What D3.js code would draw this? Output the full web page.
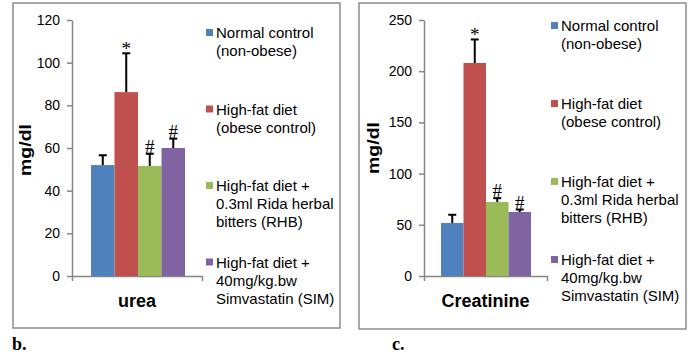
<!DOCTYPE html>
<meta charset="utf-8">
<style>
	body { margin: 0; background: #fff; }
	svg { display: block; font-family: "Liberation Sans", Arial, sans-serif; }
	.frame { fill: none; stroke: #8c8c8c; stroke-width: 1.5; }
	.axis path, .axis line { stroke: #868686; stroke-width: 1.5; }
	.axis text { font-size: 14px; fill: #000; font-family: "Liberation Sans", Arial, sans-serif; }
	.legend-text { font-size: 15px; fill: #000; }
	.err { stroke: #000; stroke-width: 2; }
	.mark { font-family: "Liberation Serif", "Times New Roman", serif; font-size: 19px; text-anchor: middle; }
	.ylab { font-size: 17px; font-weight: bold; text-anchor: middle; }
	.xlab { font-size: 18px; font-weight: bold; text-anchor: middle; }
	.panel-tag { font-family: "Liberation Serif", "Times New Roman", serif; font-size: 18px; font-weight: bold; }
</style>
<div id="chart"></div>
<script src="https://d3js.org/d3.v7.min.js"></script>
<script>

// ---- Data ---- //
const groups = ["NC", "HFD", "RHB", "SIM"];
const groupColors = ["#4f81bd", "#c0504d", "#9bbb59", "#8064a2"];
const legendLines = [
	["Normal control", "(non-obese)"],
	["High-fat diet", "(obese control)"],
	["High-fat diet +", "0.3ml Rida herbal", "bitters (RHB)"],
	["High-fat diet +", "40mg/kg.bw", "Simvastatin (SIM)"]
];

const ureaMeans = [52, 86.2, 51.6, 60];
const ureaErrors = [4.6, 18.2, 5.7, 4.4];
const ureaMarks = ["", "*", "#", "#"];
const ureaTicks = [0, 20, 40, 60, 80, 100, 120];

const creatMeans = [51.8, 208, 72.3, 62.5];
const creatErrors = [8, 23, 3.7, 2.4];
const creatMarks = ["", "*", "#", "#"];
const creatTicks = [0, 50, 100, 150, 200, 250];

// ---- Canvas ---- //
let svg = d3.select("#chart").append("svg")
	.attr("width", 692)
	.attr("height", 356);

function drawPanel(p) {
	let g = svg.append("g");

	// frame
	g.append("rect").attr("class", "frame")
		.attr("x", p.frame[0]).attr("y", p.frame[1])
		.attr("width", p.frame[2]).attr("height", p.frame[3]);

	// scales
	let y = d3.scaleLinear().domain([0, d3.max(p.ticks)]).range([276, 20]);
	let x = d3.scaleBand().domain(groups).range(p.bars).paddingInner(0);
	let xa = d3.scaleLinear().domain([0, 1]).range(p.axisX);

	// axes
	g.append("g").attr("class", "axis")
		.attr("transform", "translate(" + p.axisX[0] + ",0)")
		.call(d3.axisLeft(y).tickValues(p.ticks).tickSize(5).tickSizeOuter(0).tickPadding(7));
	g.append("g").attr("class", "axis")
		.attr("transform", "translate(0," + y(0) + ")")
		.call(d3.axisBottom(xa).tickValues([0, 1]).tickSize(5).tickSizeOuter(0).tickFormat(""));

	// bars
	g.selectAll(".bar").data(p.means).enter().append("rect")
		.attr("x", (d, i) => x(groups[i]))
		.attr("y", d => y(d))
		.attr("width", x.bandwidth())
		.attr("height", d => y(0) - y(d))
		.attr("fill", (d, i) => groupColors[i]);

	// error bars (upper only)
	p.means.forEach((m, i) => {
		let cx = x(groups[i]) + x.bandwidth() / 2;
		let top = y(m + p.errors[i]);
		g.append("line").attr("class", "err")
			.attr("x1", cx).attr("x2", cx).attr("y1", y(m)).attr("y2", top);
		g.append("line").attr("class", "err")
			.attr("x1", cx - 4).attr("x2", cx + 4).attr("y1", top).attr("y2", top);
		if (p.marks[i]) {
			g.append("text").attr("class", "mark")
				.attr("x", cx)
				.attr("y", p.marks[i] == "*" ? top + 2 : top - 1)
				.text(p.marks[i]);
		}
	});

	// axis titles
	g.append("text").attr("class", "ylab")
		.attr("transform", "translate(" + p.ylabX + "," + p.ylabY + ") rotate(-90)")
		.attr("textLength", 52)
		.attr("lengthAdjust", "spacingAndGlyphs")
		.text("mg/dl");
	g.append("text").attr("class", "xlab")
		.attr("x", (p.axisX[0] + p.axisX[1]) / 2).attr("y", 307)
		.text(p.label);

	// legend
	legendLines.forEach((lines, i) => {
		let ly = p.legY + i * p.legStep;
		g.append("rect")
			.attr("x", p.legX).attr("y", ly - 4)
			.attr("width", 7).attr("height", 7)
			.attr("fill", groupColors[i]);
		let t = g.append("text").attr("class", "legend-text")
			.attr("x", p.legX + 10).attr("y", ly + 5);
		lines.forEach((s, j) => {
			t.append("tspan").attr("x", p.legX + 10).attr("dy", j == 0 ? 0 : 18).text(s);
		});
	});

	// panel tag
	svg.append("text").attr("class", "panel-tag")
		.attr("x", p.tag[0]).attr("y", p.tag[1]).text(p.tag[2]);
}

drawPanel({
	frame: [13, 3, 327, 325],
	ticks: ureaTicks, means: ureaMeans, errors: ureaErrors, marks: ureaMarks,
	axisX: [72, 202], bars: [91, 185],
	ylabX: 31, ylabY: 150, label: "urea",
	legX: 206, legY: 33, legStep: 76.5,
	tag: [12, 350, "b."]
});

drawPanel({
	frame: [359, 3, 327, 326],
	ticks: creatTicks, means: creatMeans, errors: creatErrors, marks: creatMarks,
	axisX: [424, 547], bars: [441, 531],
	ylabX: 379, ylabY: 148, label: "Creatinine",
	legX: 551, legY: 26, legStep: 78,
	tag: [392, 350, "c."]
});
</script>
